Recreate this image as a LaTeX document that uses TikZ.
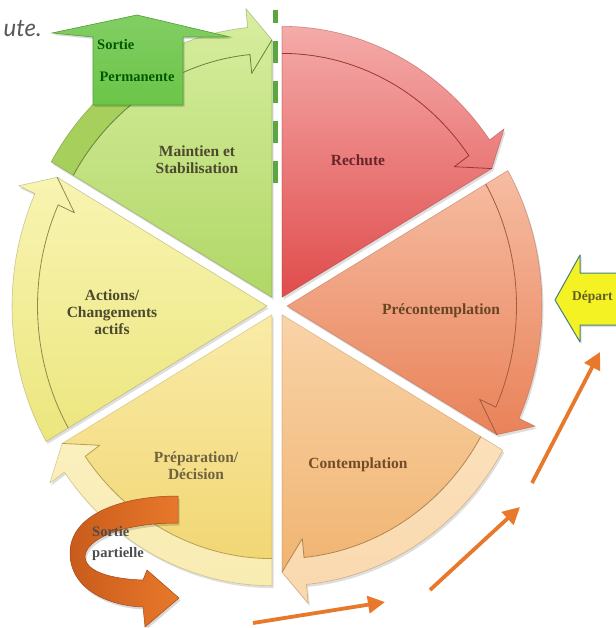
\documentclass[tikz,border=0pt]{standalone}
\usepackage{fontspec}
\setmainfont{Liberation Serif}
\newfontfamily\notefont{Lato}
\usetikzlibrary{arrows.meta}

% stage colours
\definecolor{relapseTop}{HTML}{F4ABA9}
\definecolor{relapseBot}{HTML}{E04C4C}
\definecolor{precTop}{HTML}{F6BDA2}
\definecolor{precBot}{HTML}{E98259}
\definecolor{contTop}{HTML}{F9D3A8}
\definecolor{contBot}{HTML}{EFB06A}
\definecolor{contBand}{HTML}{FBE0BA}
\definecolor{prepTop}{HTML}{F9EBA8}
\definecolor{prepBot}{HTML}{F1D46E}
\definecolor{prepBand}{HTML}{FAF0BE}
\definecolor{actTop}{HTML}{F8F4B2}
\definecolor{actBot}{HTML}{ECE67E}
\definecolor{mainTop}{HTML}{D8EEA0}
\definecolor{mainBot}{HTML}{B0D766}
\definecolor{mainDark}{HTML}{A6CF5C}
\definecolor{exitGreen}{HTML}{6CC548}
\definecolor{exitGreenDk}{HTML}{4E9E34}
\definecolor{startYellow}{HTML}{F4F222}
\definecolor{pathOrange}{HTML}{E8782A}
\definecolor{pathOrangeDk}{HTML}{C95C1C}

\tikzset{
  stagelabel/.style={font=\bfseries\fontsize{15.5}{17}\selectfont, align=center, inner sep=0pt},
  exitlabel/.style={font=\bfseries\fontsize{14.5}{16}\selectfont, inner sep=0pt, text=green!35!black},
  walkarrow/.style={draw=pathOrange, line width=3.8pt, -{Triangle[length=17pt,width=17pt]}},
  dashmark/.style={draw=exitGreen!85!black, line width=5pt, dash pattern=on 22pt off 18pt, dash phase=9pt},
}

% One stage of the cycle: a pie slice whose rim ends in an arrow head.
% #1 centre, #2 start angle, #3 top colour, #4 bottom colour, #5 rim line colour, #6 extra rim drawing
\newcommand\cycleseg[6]{%
  \begin{scope}[shift={#1}, x=255pt, y=-271pt]
    \pgfmathsetmacro\sa{#2}
    \pgfmathsetmacro\sb{#2+54.5}
    \pgfmathsetmacro\se{#2+60}
    \fill[black, opacity=0.13, xshift=1.5pt, yshift=-2.5pt]
      (0,0) -- plot[domain=\sa:\sb, samples=40] (\x:1) -- (\sb:1.07) -- (\se:0.95) -- cycle;
    \shade[top color=#3, bottom color=#4]
      (0,0) -- plot[domain=\sa:\sb, samples=40] (\x:1) -- (\sb:1.07) -- (\se:0.95) -- cycle;
    #6
    \draw[#5, line width=0.8pt, line join=round]
      plot[domain=\sa:\sb, samples=40] (\x:0.9) -- (\sb:0.83) -- (\se:0.95);
    \draw[#5, opacity=0.45, line width=0.6pt, line join=round]
      (0,0) -- plot[domain=\sa:\sb, samples=40] (\x:1) -- (\sb:1.07) -- (\se:0.95) -- cycle;
  \end{scope}}

\begin{document}
\begin{tikzpicture}[x=1pt, y=-1pt]
  \useasboundingbox (0,0) rectangle (615,628);
  \fill[white] (0,0) rectangle (615,628);

  % trailing words of the caption above
  \node[anchor=base east, inner sep=0pt, font=\notefont\itshape\fontsize{24}{26}\selectfont, text=black!65]
    (caption) at (42,37) {ute.};

  % the six stages
  \cycleseg{(282,297.3)}{-90}{relapseTop}{relapseBot}{relapseBot!70!black}{}
  \cycleseg{(287,306)}{-30}{precTop}{precBot}{precBot!70!black}{}
  \cycleseg{(282,314.7)}{30}{contTop}{contBot}{contBot!75!black}{%
    \shade[top color=contBand, bottom color=contBand!85!contBot]
      plot[domain=\sa:\sb, samples=40] (\x:1) -- (\sb:1.07) -- (\se:0.95) -- (\sb:0.83) -- (\sb:0.9)
      -- plot[domain=\sb:\sa, samples=40] (\x:0.9) -- cycle;}
  \cycleseg{(272,314.7)}{90}{prepTop}{prepBot}{prepBot!75!black}{%
    \shade[top color=prepBand, bottom color=prepBand!85!prepBot]
      plot[domain=\sa:\sb, samples=40] (\x:1) -- (\sb:1.07) -- (\se:0.95) -- (\sb:0.83) -- (\sb:0.9)
      -- plot[domain=\sb:\sa, samples=40] (\x:0.9) -- cycle;}
  \cycleseg{(267,306)}{150}{actTop}{actBot}{actBot!60!black}{}
  \cycleseg{(272,297.3)}{210}{mainTop}{mainBot}{mainBot!60!black}{%
    \fill[mainDark]
      plot[domain=\sa:245, samples=30] (\x:1) -- plot[domain=245:\sa, samples=30] (\x:0.9) -- cycle;}

  % stage names
  \node[stagelabel, text=red!30!black!85] (relapse) at (358,160) {Rechute};
  \node[stagelabel, text=brown!55!black] (precontemplation) at (441,311) {Précontemplation};
  \node[stagelabel, text=brown!60!black] (contemplation) at (358,465) {Contemplation};
  \node[stagelabel, text=olive!45!brown!55!black] (preparation) at (196,466) {Préparation/\\Décision};
  \node[stagelabel, text=olive!40!black] (actions) at (112,312) {Actions/\\Changements\\actifs};
  \node[stagelabel, text=olive!40!black] (maintien) at (197,160) {Maintien et\\Stabilisation};

  % dashed exit line between maintenance and relapse
  \coordinate (exitTop) at (275,10);
  \coordinate (exitBot) at (275,183);
  \draw[dashmark] (exitTop) -- (exitBot);

  % permanent exit arrow
  \fill[black, opacity=0.15, xshift=1.5pt, yshift=-2pt]
    (93,105) -- (93,37) -- (52,33) -- (137,15) -- (230,37) -- (183,37) -- (183,105) -- cycle;
  \shade[top color=exitGreen!85!white, bottom color=exitGreen, draw=exitGreenDk, line width=0.6pt]
    (93,105) -- (93,37) -- (52,33) -- (137,15) -- (230,37) -- (183,37) -- (183,105) -- cycle;
  \node[exitlabel, anchor=west] (exit1) at (97,45) {Sortie};
  \node[exitlabel] (exit2) at (137,77) {Permanente};

  % entry arrow on the right
  \fill[black, opacity=0.12, xshift=1.5pt, yshift=-2pt]
    (625,273) -- (580,273) -- (580,255) -- (555,300) -- (580,342) -- (580,325) -- (625,325) -- cycle;
  \fill[startYellow, draw=teal!45!gray, line width=1pt, line join=round]
    (625,273) -- (580,273) -- (580,255) -- (555,300) -- (580,342) -- (580,325) -- (625,325) -- cycle;
  \node[anchor=west, inner sep=0pt, font=\bfseries\fontsize{13.5}{15}\selectfont, text=olive!60!black]
    (start) at (572,297) {Départ};

  % walk from the entry towards the cycle
  \coordinate (w1a) at (253,623); \coordinate (w1b) at (385,602);
  \coordinate (w2a) at (430,590); \coordinate (w2b) at (520,507);
  \coordinate (w3a) at (532,483); \coordinate (w3b) at (600,352);
  \draw[walkarrow] (w1a) -- (w1b);
  \draw[walkarrow] (w2a) -- (w2b);
  \draw[walkarrow] (w3a) -- (w3b);

  % partial exit: U-turn ribbon
  \fill[black, opacity=0.15, xshift=1.5pt, yshift=-2.5pt]
    (178,496) .. controls (120,496) and (70,515) .. (70,553)
    .. controls (70,590) and (110,606) .. (143,607) -- (145,627) -- (179,598) -- (147,570) -- (143,580)
    .. controls (112,579) and (86,572) .. (85,557) .. controls (85,540) and (120,523) .. (178,523) -- cycle;
  \shade[left color=pathOrangeDk, right color=pathOrange, draw=pathOrangeDk!80!black, line width=0.5pt]
    (178,496) .. controls (120,496) and (70,515) .. (70,553)
    .. controls (70,590) and (110,606) .. (143,607) -- (145,627) -- (179,598) -- (147,570) -- (143,580)
    .. controls (112,579) and (86,572) .. (85,557) .. controls (85,540) and (120,523) .. (178,523) -- cycle;
  \node[anchor=west, inner sep=0pt, align=left, font=\bfseries\fontsize{14.5}{21}\selectfont, text=black!70]
    (partial) at (92,544) {Sortie\\partielle};
\end{tikzpicture}
\end{document}
